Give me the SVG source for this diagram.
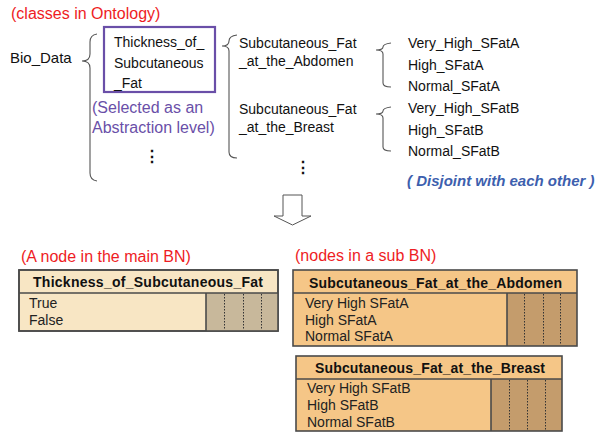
<svg xmlns="http://www.w3.org/2000/svg" width="603" height="433" viewBox="0 0 603 433">
<style>
text{font-family:"Liberation Sans",Arial,sans-serif;}
.t{font-size:14px;fill:#111;}
.red{font-size:16px;fill:#ee1c24;}
.pur{font-size:16px;fill:#6a4fa8;}
.blue{font-size:15px;fill:#3d5fae;font-weight:bold;font-style:italic;}
.brace{fill:none;stroke:#555;stroke-width:1.1;}
.frame{stroke:#4a4a4a;stroke-width:1.6;}
.ttl{font-size:14px;font-weight:bold;fill:#111;}
.st{font-size:14px;fill:#222;}
.dot{stroke:#333;stroke-width:1;stroke-dasharray:1.5,1.5;}
.main{fill:#f8e6c4;}
.maincpt{fill:#c8b89b;}
.sub{fill:#f5c687;}
.subcpt{fill:#c49c6c;}
</style>
<rect width="603" height="433" fill="#fff"/>

<text class="red" x="11" y="19">(classes in Ontology)</text>

<g id="bio_data"><text class="t" x="10" y="63" style="font-size:15px">Bio_Data</text></g>

<g id="thickness_class">
<rect x="104" y="27" width="111" height="65" fill="none" stroke="#6a4fa8" stroke-width="2.2"/>
<text class="t" x="114" y="47">Thickness_of_</text>
<text class="t" x="114" y="67.5">Subcutaneous</text>
<text class="t" x="114" y="88">_Fat</text>
<text class="pur" x="92" y="113">(Selected as an</text>
<text class="pur" x="92" y="133">Abstraction level)</text>
</g>
<g id="dots1"><text class="t" x="144" y="162" style="font-size:16px;font-weight:bold">⋮</text></g>

<g id="abdomen_class">
<text class="t" x="239" y="48">Subcutaneous_Fat</text>
<text class="t" x="239" y="66">_at_the_Abdomen</text>
</g>
<g id="breast_class">
<text class="t" x="239" y="114">Subcutaneous_Fat</text>
<text class="t" x="239" y="132">_at_the_Breast</text>
</g>
<g id="dots2"><text class="t" x="295" y="173" style="font-size:16px;font-weight:bold">⋮</text></g>

<g id="abdomen_values">
<text class="t" x="408" y="48">Very_High_SFatA</text>
<text class="t" x="408" y="70">High_SFatA</text>
<text class="t" x="408" y="91">Normal_SFatA</text>
</g>
<g id="breast_values">
<text class="t" x="408" y="113">Very_High_SFatB</text>
<text class="t" x="408" y="135">High_SFatB</text>
<text class="t" x="408" y="156">Normal_SFatB</text>
</g>
<text class="blue" x="407" y="186">( Disjoint with each other )</text>

<g id="connectors">
<path class="brace" d="M97,34 Q90,35 90,42 L90,54 Q90,61 82,61 Q90,61 90,68 L90,173 Q90,180 97,181"/>
<path class="brace" d="M237,35 Q229,36 229,41 Q229,46 222,46 Q229,46 229,51 L229,152 Q229,158 237,158"/>
<path class="brace" d="M391,43 Q383,44 383,47 Q383,50 376,50 Q383,50 383,54 L383,83 Q383,87 391,87"/>
<path class="brace" d="M391,107 Q383,108 383,111 Q383,114 376,114 Q383,114 383,118 L383,147 Q383,151 391,151"/>
<polygon points="283,195 302,195 302,216 311,216 292.5,225 274,216 283,216" fill="#fff" stroke="#555" stroke-width="1"/>
</g>

<text class="red" x="21" y="262">(A node in the main BN)</text>
<text class="red" x="295" y="261">(nodes in a sub BN)</text>

<g id="bn_thickness">
<rect class="main frame" x="19" y="270" width="259" height="61"/>
<rect class="maincpt" x="206" y="293" width="72" height="38"/>
<line class="dot" x1="224.5" y1="294" x2="224.5" y2="330"/>
<line class="dot" x1="243.5" y1="294" x2="243.5" y2="330"/>
<line class="dot" x1="261.5" y1="294" x2="261.5" y2="330"/>
<rect x="19" y="270" width="259" height="61" fill="none" class="frame"/>
<line class="frame" x1="19" y1="293" x2="278" y2="293"/>
<line class="frame" x1="206" y1="293" x2="206" y2="331"/>
<text class="ttl" x="33" y="287" textLength="230" lengthAdjust="spacing">Thickness_of_Subcutaneous_Fat</text>
<text class="st" x="29" y="308">True</text>
<text class="st" x="29" y="325">False</text>
</g>

<g id="bn_abdomen">
<rect class="sub" x="293" y="270" width="284" height="76"/>
<rect class="subcpt" x="507" y="293" width="70" height="53"/>
<line class="dot" x1="524.5" y1="294" x2="524.5" y2="345"/>
<line class="dot" x1="543.5" y1="294" x2="543.5" y2="345"/>
<line class="dot" x1="560.5" y1="294" x2="560.5" y2="345"/>
<rect x="293" y="270" width="284" height="76" fill="none" class="frame"/>
<line class="frame" x1="293" y1="293" x2="577" y2="293"/>
<line class="frame" x1="507" y1="293" x2="507" y2="346"/>
<text class="ttl" x="309" y="288" textLength="253" lengthAdjust="spacing">Subcutaneous_Fat_at_the_Abdomen</text>
<text class="st" x="305" y="308">Very High SFatA</text>
<text class="st" x="305" y="324.5">High SFatA</text>
<text class="st" x="305" y="341">Normal SFatA</text>
</g>

<g id="bn_breast">
<rect class="sub" x="296" y="356" width="266" height="75"/>
<rect class="subcpt" x="491" y="379" width="71" height="52"/>
<line class="dot" x1="509.5" y1="380" x2="509.5" y2="430"/>
<line class="dot" x1="527.5" y1="380" x2="527.5" y2="430"/>
<line class="dot" x1="545.5" y1="380" x2="545.5" y2="430"/>
<rect x="296" y="356" width="266" height="75" fill="none" class="frame"/>
<line class="frame" x1="296" y1="379" x2="562" y2="379"/>
<line class="frame" x1="491" y1="379" x2="491" y2="431"/>
<text class="ttl" x="315" y="373" textLength="230" lengthAdjust="spacing">Subcutaneous_Fat_at_the_Breast</text>
<text class="st" x="307" y="393">Very High SFatB</text>
<text class="st" x="307" y="410">High SFatB</text>
<text class="st" x="307" y="427">Normal SFatB</text>
</g>
</svg>
